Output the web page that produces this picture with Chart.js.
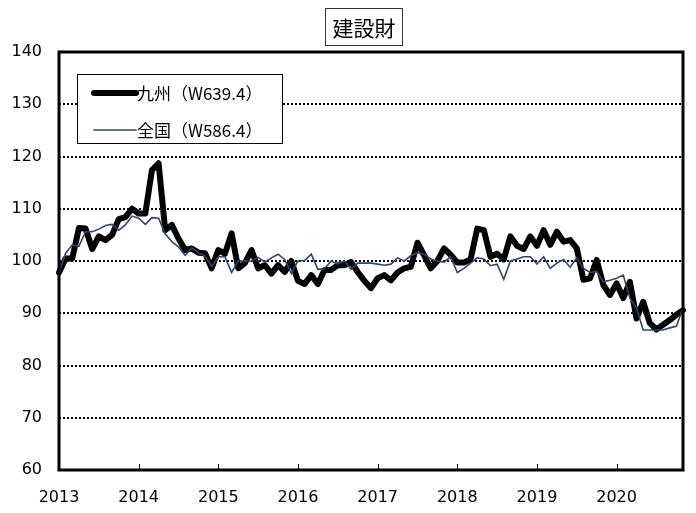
<!DOCTYPE html>
<html>
<head>
<meta charset="utf-8">
<script src="https://cdn.jsdelivr.net/npm/chart.js@4.4.0/dist/chart.umd.min.js"></script>
<style>
  body { margin: 0; background: #fff; }
  #wrap { width: 696px; height: 513px; }
</style>
</head>
<body>
<div id="wrap"><canvas id="chart" width="696" height="513"></canvas></div>
<script>
const chartTitle = "建設財";
const years = ["2013", "2014", "2015", "2016", "2017", "2018", "2019", "2020"];
const kyushuLabel = "九州（W639.4）";
const zenkokuLabel = "全国（W586.4）";

// monthly index, Jan 2013 - Nov 2020
const kyushu = [
  97.8, 100.5, 100.5, 106.3, 106.2, 102.3, 104.7, 104.0, 105.0, 108.0, 108.4, 110.0,
  109.1, 109.1, 117.4, 118.7, 105.9, 106.9, 104.3, 102.1, 102.4, 101.6, 101.5, 98.6,
  102.1, 101.4, 105.3, 98.6, 99.6, 102.1, 98.6, 99.2, 97.6, 99.2, 97.9, 100.0,
  96.2, 95.6, 97.3, 95.6, 98.3, 98.3, 99.2, 99.2, 99.8, 97.9, 96.2, 94.8,
  96.7, 97.3, 96.3, 97.8, 98.6, 98.9, 103.5, 101.1, 98.6, 100.0, 102.4, 101.2,
  99.7, 99.7, 100.3, 106.2, 105.9, 100.8, 101.4, 100.3, 104.7, 102.9, 102.3, 104.7,
  102.9, 105.9, 103.1, 105.6, 103.7, 104.0, 102.4, 96.4, 96.7, 100.2, 95.4, 93.5,
  95.7, 92.9, 96.0, 89.0, 92.2, 88.1, 86.9, 87.8, 88.7, 89.7, 90.6
];
const zenkoku = [
  97.7, 101.5, 103.1, 102.8, 105.6, 105.6, 106.1, 106.8, 107.0, 105.9, 106.9, 108.6,
  108.2, 107.0, 108.3, 108.2, 105.2, 103.7, 102.7, 101.1, 102.5, 101.5, 101.0, 99.0,
  100.8, 100.8, 97.8, 100.0, 100.0, 100.0, 100.7, 99.8, 100.6, 101.3, 100.3, 97.6,
  100.0, 100.1, 101.3, 98.4, 98.5, 100.0, 99.4, 100.0, 98.4, 99.6, 99.6, 99.6,
  99.4, 99.2, 99.4, 100.6, 100.0, 101.0, 101.6, 101.3, 100.4, 100.0, 99.8, 100.8,
  97.8, 98.6, 99.6, 100.6, 100.4, 99.1, 99.4, 96.5, 100.0, 100.4, 100.8, 100.8,
  99.4, 100.8, 98.6, 99.6, 100.3, 98.8, 100.6, 98.6, 97.8, 98.0, 96.0, 96.3,
  96.7, 97.3, 92.9, 91.0, 86.8, 86.8, 86.8, 86.8, 87.2, 87.5, 91.0
];

const months = [];
for (let i = 0; i < kyushu.length; i++) {
  months.push(years[0] * 1 + Math.floor(i / 12) + "/" + (i % 12 + 1));
}

const numFont = { family: "DejaVu Sans", size: 16 };
const jpFont = "'Noto Sans CJK JP', sans-serif";

// frame, ticks, title box and legend box
const decorations = {
  id: "decorations",
  afterDatasetsDraw(chart) {
    const ctx = chart.ctx;
    const a = chart.chartArea;
    const xs = chart.scales.x;
    ctx.save();

    // legend
    const lx = 77, ly = 74, lw = 205, lh = 69;
    ctx.fillStyle = "#fff";
    ctx.fillRect(lx, ly, lw, lh);
    ctx.strokeStyle = "#000";
    ctx.lineWidth = 1;
    ctx.strokeRect(lx + 0.5, ly + 0.5, lw, lh);
    chart.data.datasets.slice().reverse().forEach((ds, k) => {
      const y = k === 0 ? 93 : 130;
      ctx.beginPath();
      ctx.lineCap = "round";
      ctx.strokeStyle = ds.borderColor;
      ctx.lineWidth = ds.borderWidth;
      ctx.moveTo(94, y);
      ctx.lineTo(136, y);
      ctx.stroke();
      ctx.fillStyle = "#000";
      ctx.font = "17px " + jpFont;
      ctx.textBaseline = "middle";
      ctx.textAlign = "left";
      ctx.fillText(ds.label, 137, y + 1);
    });

    // x tick marks pointing inward
    ctx.strokeStyle = "#000";
    ctx.lineWidth = 1;
    ctx.lineCap = "butt";
    for (let i = 12; i < months.length; i += 12) {
      const x = Math.round(xs.getPixelForValue(i)) + 0.5;
      ctx.beginPath();
      ctx.moveTo(x, a.bottom);
      ctx.lineTo(x, a.bottom - 6);
      ctx.stroke();
    }

    // frame
    ctx.lineWidth = 3;
    ctx.strokeRect(a.left, a.top, a.right - a.left, a.bottom - a.top);

    // title box
    ctx.fillStyle = "#fff";
    ctx.fillRect(325, 8, 77, 37);
    ctx.lineWidth = 1;
    ctx.strokeStyle = "#333";
    ctx.strokeRect(325.5, 8.5, 77, 37);
    ctx.fillStyle = "#000";
    ctx.font = "21px " + jpFont;
    ctx.textAlign = "center";
    ctx.textBaseline = "middle";
    ctx.fillText(chartTitle, 364, 28);
    ctx.restore();
  }
};

new Chart(document.getElementById("chart"), {
  type: "line",
  data: {
    labels: months,
    datasets: [
      {
        label: zenkokuLabel,
        data: zenkoku,
        borderColor: "#2b4676",
        borderWidth: 1.6,
        pointRadius: 0,
        tension: 0,
        order: 1,
      },
      {
        label: kyushuLabel,
        data: kyushu,
        borderColor: "#000000",
        borderWidth: 6,
        borderJoinStyle: "round",
        borderCapStyle: "round",
        pointRadius: 0,
        tension: 0,
        order: 2,
      },
    ],
  },
  options: {
    responsive: false,
    animation: false,
    devicePixelRatio: 1,
    layout: { padding: { top: 52, right: 13, left: 0, bottom: 0 } },
    plugins: {
      legend: { display: false },
      tooltip: { enabled: false },
      title: { display: false },
    },
    scales: {
      x: {
        type: "category",
        offset: false,
        grid: { display: false },
        border: { display: false },
        ticks: {
          autoSkip: false,
          maxRotation: 0,
          padding: 10,
          color: "#000",
          font: numFont,
          callback: (v, i) => (i % 12 === 0 ? years[i / 12] : ""),
        },
        afterFit: (s) => { s.height = 43; },
      },
      y: {
        min: 60,
        max: 140,
        ticks: { stepSize: 10, padding: 17, color: "#000", font: numFont },
        grid: { color: "#000", lineWidth: 2, drawTicks: false },
        border: { display: false, dash: [2, 2] },
        afterFit: (s) => { s.width = 59; },
      },
    },
  },
  plugins: [decorations],
});
</script>
</body>
</html>
